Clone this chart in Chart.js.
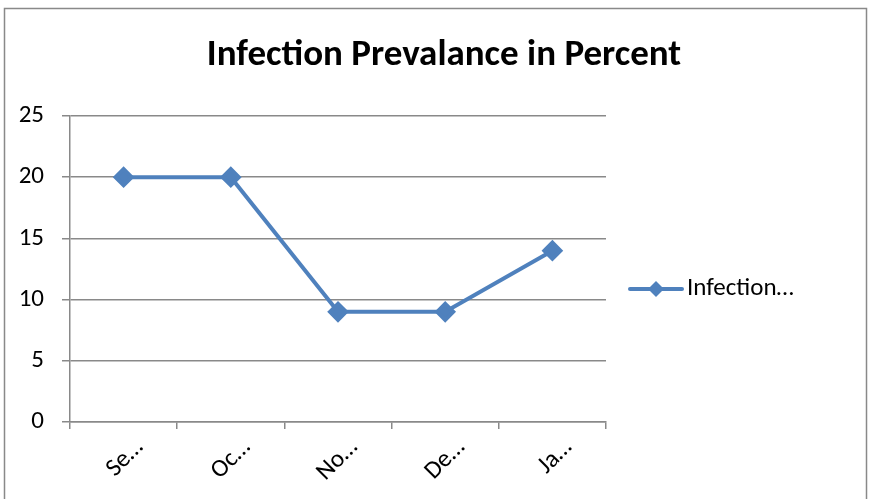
<!DOCTYPE html>
<html>
<head>
<meta charset="utf-8">
<script src="https://cdn.jsdelivr.net/npm/chart.js@4/dist/chart.umd.min.js"></script>
<style>
  html, body { margin: 0; padding: 0; background: #fff; }
  #wrap { width: 873px; height: 499px; }
</style>
</head>
<body>
<div id="wrap"><canvas id="myChart" width="873" height="499"></canvas></div>
<script>
const categories = ['Se…', 'Oc…', 'No…', 'De…', 'Ja…'];
const infection = [20, 20, 9, 9, 14];
const seriesName = 'Infection…';
const chartTitle = 'Infection Prevalance in Percent';

const blue = '#4f81bd';
const gray = '#898989';
const fontFamily = 'Carlito, Lato, "Open Sans", sans-serif';

// frame, title and legend like the spreadsheet chart
const decor = {
  id: 'decor',
  beforeDraw(chart) {
    const ctx = chart.ctx;
    ctx.save();
    ctx.fillStyle = '#fff';
    ctx.fillRect(0, 0, chart.width, chart.height);
    ctx.strokeStyle = gray;
    ctx.lineWidth = 1.5;
    ctx.strokeRect(4.5, 8.5, 862, 600);
    ctx.restore();
  },
  afterDraw(chart) {
    const ctx = chart.ctx;
    ctx.save();
    ctx.fillStyle = '#000';
    ctx.font = 'bold 37px ' + fontFamily;
    ctx.textAlign = 'center';
    ctx.textBaseline = 'middle';
    ctx.fillText(chartTitle, 444, 56);

    // legend
    const y = 289;
    ctx.strokeStyle = blue;
    ctx.lineWidth = 4;
    ctx.lineCap = 'round';
    ctx.beginPath();
    ctx.moveTo(630, y);
    ctx.lineTo(682, y);
    ctx.stroke();
    ctx.fillStyle = blue;
    ctx.beginPath();
    ctx.moveTo(656, y - 8);
    ctx.lineTo(664, y);
    ctx.lineTo(656, y + 8);
    ctx.lineTo(648, y);
    ctx.closePath();
    ctx.fill();
    ctx.fillStyle = '#000';
    ctx.font = '25px ' + fontFamily;
    ctx.textAlign = 'left';
    ctx.fillText(seriesName, 687, y);
    ctx.restore();
  }
};

const data = {
  labels: categories,
  datasets: [{
    label: seriesName,
    data: infection,
    borderColor: blue,
    backgroundColor: blue,
    borderWidth: 4,
    pointStyle: 'rectRot',
    pointRadius: 8,
    pointHoverRadius: 8,
    tension: 0
  }]
};

const config = {
  type: 'line',
  data,
  options: {
    responsive: false,
    animation: false,
    layout: { padding: { top: 116, left: 0, right: 267, bottom: 0 } },
    plugins: {
      legend: { display: false },
      title: { display: false },
      tooltip: { enabled: false }
    },
    scales: {
      x: {
        offset: true,
        afterFit(scale) { scale.height = 77; },
        grid: {
          offset: true,
          drawOnChartArea: false,
          color: gray,
          tickLength: 7,
          lineWidth: 1.5
        },
        border: { color: gray, width: 1.5 },
        ticks: {
          color: '#000',
          font: { family: fontFamily, size: 25 },
          minRotation: 45,
          maxRotation: 45,
          padding: 4,
          labelOffset: 16,
          autoSkip: false
        }
      },
      y: {
        min: 0,
        max: 25,
        afterFit(scale) { scale.width = 70; },
        grid: { color: gray, tickLength: 8, lineWidth: 1.5 },
        border: { color: gray, width: 1.5 },
        ticks: {
          stepSize: 5,
          color: '#000',
          font: { family: fontFamily, size: 25 },
          padding: 18
        }
      }
    }
  },
  plugins: [decor]
};

const chart = new Chart(document.getElementById('myChart'), config);
</script>
</body>
</html>
